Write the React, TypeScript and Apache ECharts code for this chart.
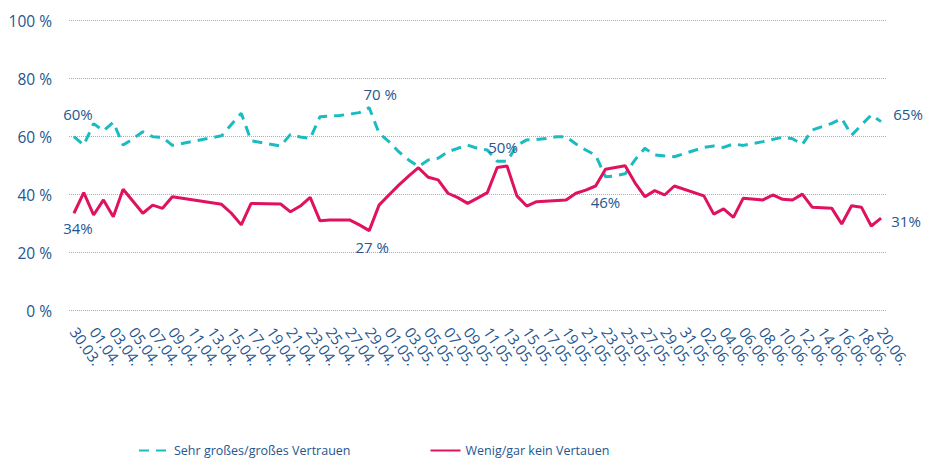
import { useEffect, useRef } from "react";
import * as echarts from "echarts";

const days = [
  "30.03.", "31.03.", "01.04.", "02.04.", "03.04.", "04.04.", "05.04.", "06.04.", "07.04.", "08.04.",
  "09.04.", "10.04.", "11.04.", "12.04.", "13.04.", "14.04.", "15.04.", "16.04.", "17.04.", "18.04.",
  "19.04.", "20.04.", "21.04.", "22.04.", "23.04.", "24.04.", "25.04.", "26.04.", "27.04.", "28.04.",
  "29.04.", "30.04.", "01.05.", "02.05.", "03.05.", "04.05.", "05.05.", "06.05.", "07.05.", "08.05.",
  "09.05.", "10.05.", "11.05.", "12.05.", "13.05.", "14.05.", "15.05.", "16.05.", "17.05.", "18.05.",
  "19.05.", "20.05.", "21.05.", "22.05.", "23.05.", "24.05.", "25.05.", "26.05.", "27.05.", "28.05.",
  "29.05.", "30.05.", "31.05.", "01.06.", "02.06.", "03.06.", "04.06.", "05.06.", "06.06.", "07.06.",
  "08.06.", "09.06.", "10.06.", "11.06.", "12.06.", "13.06.", "14.06.", "15.06.", "16.06.", "17.06.",
  "18.06.", "19.06.", "20.06.",
];

const seriesNames = ["Sehr großes/großes Vertrauen", "Wenig/gar kein Vertauen"];

// Sehr großes/großes Vertrauen (%), one entry per day, null = no survey
const highTrust: (number | null)[] = [
  60, 57.1, 64.5, 62, 65, 57.1, 59.3, 61.7, 60, 59.8,
  57, null, null, null, null, 60.3, null, 68.1, 58.6, null,
  null, 56.8, 60.8, 59.9, 59.4, 66.9, 67.1, 67.3, 67.8, 68.3,
  70, 61.2, 58.3, 54.8, 52, 49.7, 52, 52.6, 54.8, 56,
  57.1, 56, 55.4, 51.5, 51.5, 57, 58.9, 59, 59.4, 60,
  60, 57.5, 55.4, 53.6, 46.2, 46.5, 47.2, 52, 56, 53.7,
  null, 53.1, null, null, 56.3, 56.8, 56.3, 57.5, 57.0, null,
  58.3, null, 59.8, 59.3, 57.3, 62.3, null, 64.6, 66.3, 60.5,
  null, 67.5, 65.2,
];

// Wenig/gar kein Vertauen (%)
const lowTrust: (number | null)[] = [
  33.6, 40.7, 33.0, 38.2, 32.4, 41.9, null, 33.6, 36.4, 35.3,
  39.3, null, null, null, null, 36.7, 33.6, 29.6, 37.0, null,
  null, 36.8, 34.1, 36.1, 39.1, 31.0, 31.3, null, 31.3, 29.6,
  27.6, 36.4, 39.9, 43.3, 46.4, 49.3, 46.0, 45.1, 40.5, 39.0,
  37.0, 38.8, 40.7, 49.4, 49.9, 39.6, 36.1, 37.6, null, null,
  38.2, 40.5, 41.6, 43.0, 48.8, 49.4, 50.0, 44.1, 39.3, 41.4,
  39.9, 43.0, null, null, 39.6, 33.3, 35.1, 32.2, 38.8, null,
  38.2, 39.9, 38.4, 38.2, 40.2, 35.7, null, 35.3, 29.9, 36.2,
  35.7, 29.2, 31.9,
];

const yTicks = [0, 20, 40, 60, 80, 100];

// annotations: [day index, text]
const highNotes: [number, string][] = [
  [0, "60%"],
  [30, "70 %"],
  [54, "46%"],
  [82, "65%"],
];
const lowNotes: [number, string][] = [
  [0, "34%"],
  [30, "27 %"],
  [44, "50%"],
  [82, "31%"],
];

// label offsets (styling, px)
const highOffsets: Record<number, [number, number]> = {
  0: [4, -23],
  30: [11, -14],
  54: [0, 25],
  82: [27, -8],
};
const lowOffsets: Record<number, [number, number]> = {
  0: [4, 15],
  30: [3, 16],
  44: [-4, -19],
  82: [25, 3],
};

const TEXT = "#245690";
const GREEN = "#1bbcc1";
const RED = "#e0115e";
const FONT = "Open Sans";

function buildData(
  values: (number | null)[],
  notes: [number, string][],
  offsets: Record<number, [number, number]>
) {
  return values.map((v, i) => {
    const note = notes.find((n) => n[0] === i);
    if (!note || v === null) return v;
    return {
      value: v,
      label: {
        show: true,
        position: "inside",
        formatter: note[1],
        offset: offsets[i],
        color: TEXT,
        fontSize: 15,
        fontFamily: FONT,
      },
    };
  });
}

export default function App() {
  const ref = useRef<HTMLDivElement>(null);
  useEffect(() => {
    if (!ref.current) return;
    const chart = echarts.init(ref.current, undefined, { renderer: "svg" });
    chart.setOption({
      animation: false,
      textStyle: { fontFamily: FONT },
      grid: { left: 69, right: 40, top: 20.7, bottom: 149.3, containLabel: false },
      legend: {
        left: 133,
        top: 439,
        itemWidth: 30,
        itemHeight: 14,
        itemGap: 79,
        itemStyle: { opacity: 0 },
        textStyle: { color: TEXT, fontSize: 12.5, fontFamily: FONT },
        data: seriesNames,
      },
      xAxis: {
        type: "category",
        data: days,
        boundaryGap: true,
        axisLine: { show: false },
        axisTick: { show: false },
        axisLabel: {
          interval: 1,
          rotate: -55,
          margin: 18,
          color: TEXT,
          fontSize: 15,
          fontFamily: FONT,
        },
      },
      yAxis: {
        type: "value",
        min: yTicks[0],
        max: yTicks[yTicks.length - 1],
        interval: 20,
        axisLine: { show: false },
        axisTick: { show: false },
        axisLabel: {
          formatter: "{value} %",
          color: TEXT,
          fontSize: 15.5,
          fontFamily: FONT,
          margin: 17,
        },
        splitLine: { lineStyle: { color: "#a8aeb5", type: [1, 1], width: 1 } },
      },
      series: [
        {
          name: seriesNames[0],
          type: "line",
          data: buildData(highTrust, highNotes, highOffsets),
          connectNulls: true,
          symbol: "circle",
          symbolSize: 0,
          showSymbol: true,
          lineStyle: { color: GREEN, width: 3, type: [10, 7] },
          itemStyle: { color: GREEN },
          z: 3,
        },
        {
          name: seriesNames[1],
          type: "line",
          data: buildData(lowTrust, lowNotes, lowOffsets),
          connectNulls: true,
          symbol: "circle",
          symbolSize: 0,
          showSymbol: true,
          lineStyle: { color: RED, width: 3 },
          itemStyle: { color: RED },
          z: 4,
        },
      ],
    });
    return () => chart.dispose();
  }, []);
  return (
    <div
      ref={ref}
      style={{ position: "fixed", left: 0, top: 0, width: 926, height: 460, background: "#fff" }}
    />
  );
}
